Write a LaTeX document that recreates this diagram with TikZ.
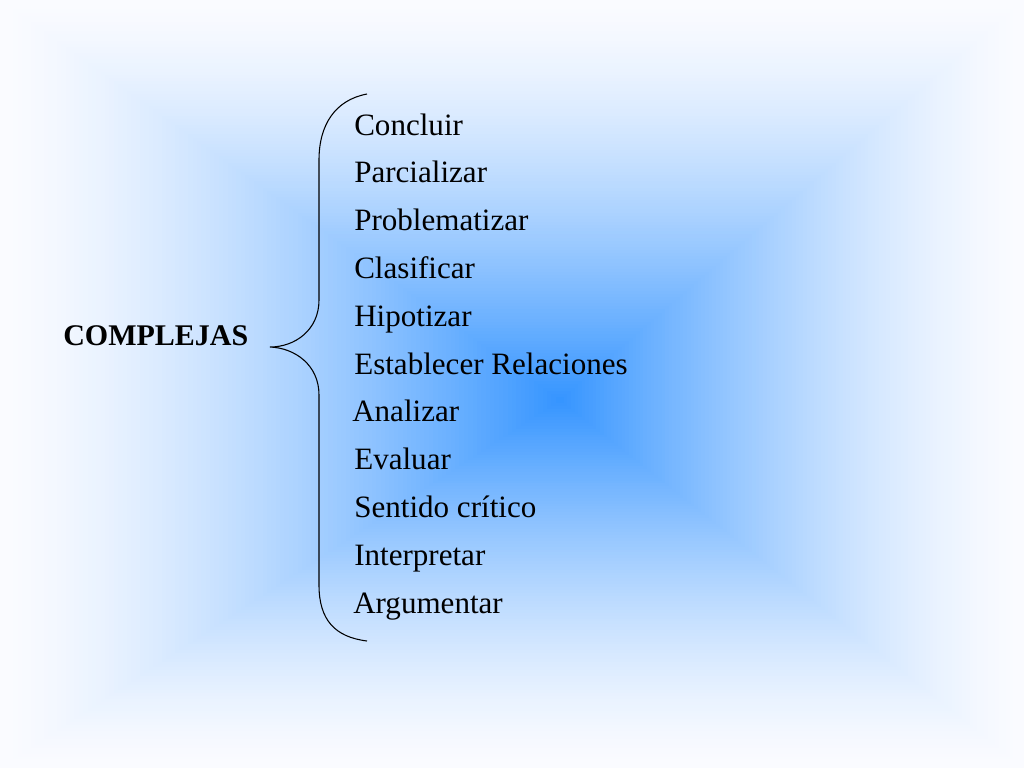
\documentclass[tikz,border=0pt]{standalone}
\usepackage{fontspec}
\setmainfont{Liberation Serif}
\definecolor{cwhite}{RGB}{250,251,255}
\definecolor{cblue}{RGB}{52,148,255}
\definecolor{cedge}{RGB}{252,253,255}
\begin{document}
\begin{tikzpicture}[x=0.75pt,y=-0.75pt,
  item/.style={anchor=base west,inner sep=0pt,font=\fontsize{23.3}{28}\selectfont,text=black},
  head/.style={anchor=base west,inner sep=0pt,font=\fontsize{22.5}{27}\selectfont\bfseries,text=black},
  bracestyle/.style={draw=black,line width=0.8pt}]
\useasboundingbox (0,0) rectangle (1024,768);
\fill[cedge] (0,0) rectangle (1024,768);
\foreach \i in {0,...,127}{
  \pgfmathsetmacro\t{\i/128}
  \pgfmathsetmacro\p{100*(\t)^1.45}
  \fill[cblue!\p!cwhite] (560*\t,400*\t) rectangle (1024-464*\t,768-368*\t);
}
\node[head] (complejas) at (63,345) {COMPLEJAS};
\node[item] (l1) at (354,135) {Concluir};
\node[item] (l2) at (354,182.8) {Parcializar};
\node[item] (l3) at (354,230.6) {Problematizar};
\node[item] (l4) at (354,278.4) {Clasificar};
\node[item] (l5) at (354,326.2) {Hipotizar};
\node[item] (l6) at (354,374) {Establecer Relaciones};
\node[item] (l7) at (352,421.8) {Analizar};
\node[item] (l8) at (354,469.6) {Evaluar};
\node[item] (l9) at (354,517.4) {Sentido crítico};
\node[item] (l10) at (354,565.2) {Interpretar};
\node[item] (l11) at (353,613) {Argumentar};
\coordinate (btop) at (367,94);
\coordinate (btip) at (270,347);
\coordinate (bbot) at (367,641);
\draw[bracestyle] (btop) .. controls (335,100) and (319,125) .. (319,160)
  -- (319,300) .. controls (319,330) and (295,347) .. (btip)
  .. controls (295,348) and (319,365) .. (319,395)
  -- (319,585) .. controls (319,620) and (335,637) .. (bbot);
\end{tikzpicture}
\end{document}
